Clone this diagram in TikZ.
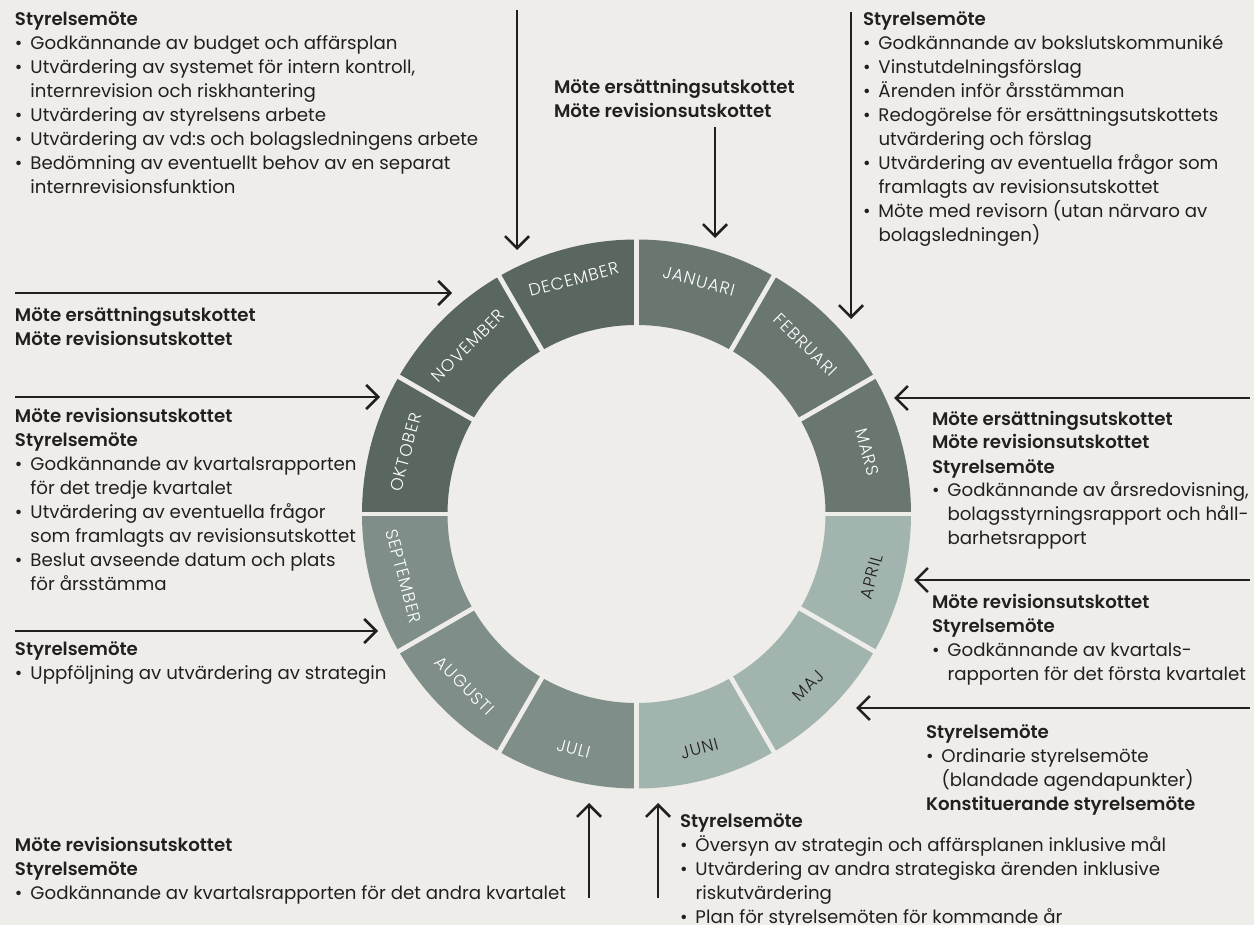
\documentclass[tikz,border=0pt]{standalone}
\usepackage{fontspec}
\setmainfont{Poppins}[BoldFont={Poppins SemiBold}]
\newfontfamily\monfont[LetterSpace=6]{Poppins Light}
\usetikzlibrary{arrows.meta}
\definecolor{bg}{HTML}{EEEDE9}
\definecolor{ink}{HTML}{231F20}
\definecolor{mA}{HTML}{5A6660}
\definecolor{mB}{HTML}{6A7771}
\definecolor{mC}{HTML}{7F8E88}
\definecolor{mD}{HTML}{A1B4AE}
\newcommand{\bt}{\fontsize{18.2}{24}\selectfont}
\newcommand{\hd}[1]{\textbf{#1}}
\newcommand{\bl}{\makebox[15.5pt][l]{•}}
\newcommand{\ct}{\hspace*{15.5pt}}
\newcommand{\blk}[1]{\parbox[t]{700pt}{\raggedright #1}}
\tikzset{
  txt/.style={anchor=base west, inner sep=0pt, outer sep=0pt, text=ink, font=\bt},
  arr/.style={draw=ink, line width=2.6pt, -{Straight Barb[length=12pt,width=24pt,line width=2.6pt]}},
  mon/.style={font=\monfont\fontsize{17}{17}\selectfont, inner sep=0pt, anchor=center},
}
\begin{document}
\begin{tikzpicture}[x=1pt,y=-1pt]
\fill[bg] (0,0) rectangle (1254,925);
\useasboundingbox (0,0) rectangle (1254,925);

% ring
\begin{scope}[shift={(636.5,514)}, yscale=-1]
  \foreach \a/\b/\c in {60/90/mB,30/60/mB,0/30/mB,-30/0/mD,-60/-30/mD,-90/-60/mD,
                        -120/-90/mC,-150/-120/mC,-180/-150/mC,150/180/mA,120/150/mA,90/120/mA}
    \fill[\c] (\a:189) arc[start angle=\a, end angle=\b, radius=189]
              -- (\b:274.5) arc[start angle=\b, end angle=\a, radius=274.5] -- cycle;
  \foreach \a in {0,30,...,330}
    \draw[bg, line width=4.7pt] (\a:185) -- (\a:279);
  \node[mon, text=white, rotate=-15] (jan) at (75:241) {JANUARI};
  \node[mon, text=white, rotate=-45] (feb) at (45:239) {FEBRUARI};
  \node[mon, text=white, rotate=-75] (mar) at (15:239) {MARS};
  \node[mon, text=ink, rotate=75] (apr) at (-15:243) {APRIL};
  \node[mon, text=ink, rotate=45] (maj) at (-45:243) {MAJ};
  \node[mon, text=ink, rotate=15] (jun) at (-75:243) {JUNI};
  \node[mon, text=white, rotate=-15] (jul) at (-105:243) {JULI};
  \node[mon, text=white, rotate=-45] (aug) at (-135:243) {AUGUSTI};
  \node[mon, text=white, rotate=-75] (sep) at (-165:241) {SEPTEMBER};
  \node[mon, text=white, rotate=75] (okt) at (165:239) {OKTOBER};
  \node[mon, text=white, rotate=45] (nov) at (135:238) {NOVEMBER};
  \node[mon, text=white, rotate=15] (dec) at (105:243) {DECEMBER};
\end{scope}

% arrows
\coordinate (decA) at (517,10);   \coordinate (decB) at (517,250);
\coordinate (janA) at (715,127);  \coordinate (janB) at (715,238);
\coordinate (febA) at (851,12);   \coordinate (febB) at (851,319);
\coordinate (novA) at (15,293);   \coordinate (novB) at (452,293);
\coordinate (oktA) at (15,397);   \coordinate (oktB) at (380,397);
\coordinate (sepA) at (15,631);   \coordinate (sepB) at (378,631);
\coordinate (marA) at (1250,398); \coordinate (marB) at (894,398);
\coordinate (aprA) at (1250,580); \coordinate (aprB) at (914,580);
\coordinate (majA) at (1250,708); \coordinate (majB) at (856,708);
\coordinate (junA) at (658,898);  \coordinate (junB) at (658,803);
\coordinate (julA) at (589,898);  \coordinate (julB) at (589,803);
\foreach \m in {dec,jan,feb,nov,okt,sep,mar,apr,maj,jun,jul}
  \draw[arr] (\m A) -- (\m B);

% texts
\node[txt] (tdec) at (15,26) {\blk{\hd{Styrelsemöte}\\
\bl Godkännande av budget och affärsplan\\
\bl Utvärdering av systemet för intern kontroll,\\
\ct internrevision och riskhantering\\
\bl Utvärdering av styrelsens arbete\\
\bl Utvärdering av vd:s och bolagsledningens arbete\\
\bl Bedömning av eventuellt behov av en separat\\
\ct internrevisionsfunktion}};

\node[txt] (tjan) at (554,94) {\blk{\hd{Möte ersättningsutskottet}\\
\hd{Möte revisionsutskottet}}};

\node[txt] (tfeb) at (863,26) {\blk{\hd{Styrelsemöte}\\
\bl Godkännande av bokslutskommuniké\\
\bl Vinstutdelningsförslag\\
\bl Ärenden inför årsstämman\\
\bl Redogörelse för ersättningsutskottets\\
\ct utvärdering och förslag\\
\bl Utvärdering av eventuella frågor som\\
\ct framlagts av revisionsutskottet\\
\bl Möte med revisorn (utan närvaro av\\
\ct bolagsledningen)}};

\node[txt] (tnov) at (15,322) {\blk{\hd{Möte ersättningsutskottet}\\
\hd{Möte revisionsutskottet}}};

\node[txt] (tokt) at (15,423) {\blk{\hd{Möte revisionsutskottet}\\
\hd{Styrelsemöte}\\
\bl Godkännande av kvartalsrapporten\\
\ct för det tredje kvartalet\\
\bl Utvärdering av eventuella frågor\\
\ct som framlagts av revisionsutskottet\\
\bl Beslut avseende datum och plats\\
\ct för årsstämma}};

\node[txt] (tsep) at (15,655) {\blk{\hd{Styrelsemöte}\\
\bl Uppföljning av utvärdering av strategin}};

\node[txt] (tjul) at (15,851) {\blk{\hd{Möte revisionsutskottet}\\
\hd{Styrelsemöte}\\
\bl Godkännande av kvartalsrapporten för det andra kvartalet}};

\node[txt] (tmar) at (932,425) {\blk{\hd{Möte ersättningsutskottet}\\
\hd{Möte revisionsutskottet}\\
\hd{Styrelsemöte}\\
\bl Godkännande av årsredovisning,\\
\ct bolagsstyrningsrapport och håll-\\
\ct barhetsrapport}};

\node[txt] (tapr) at (932,608) {\blk{\hd{Möte revisionsutskottet}\\
\hd{Styrelsemöte}\\
\bl Godkännande av kvartals-\\
\ct rapporten för det första kvartalet}};

\node[txt] (tmaj) at (926,738) {\blk{\hd{Styrelsemöte}\\
\bl Ordinarie styrelsemöte\\
\ct (blandade agendapunkter)\\
\hd{Konstituerande styrelsemöte}}};

\node[txt] (tjun) at (680,827) {\blk{\hd{Styrelsemöte}\\
\bl Översyn av strategin och affärsplanen inklusive mål\\
\bl Utvärdering av andra strategiska ärenden inklusive\\
\ct riskutvärdering\\
\bl Plan för styrelsemöten för kommande år}};
\end{tikzpicture}
\end{document}
